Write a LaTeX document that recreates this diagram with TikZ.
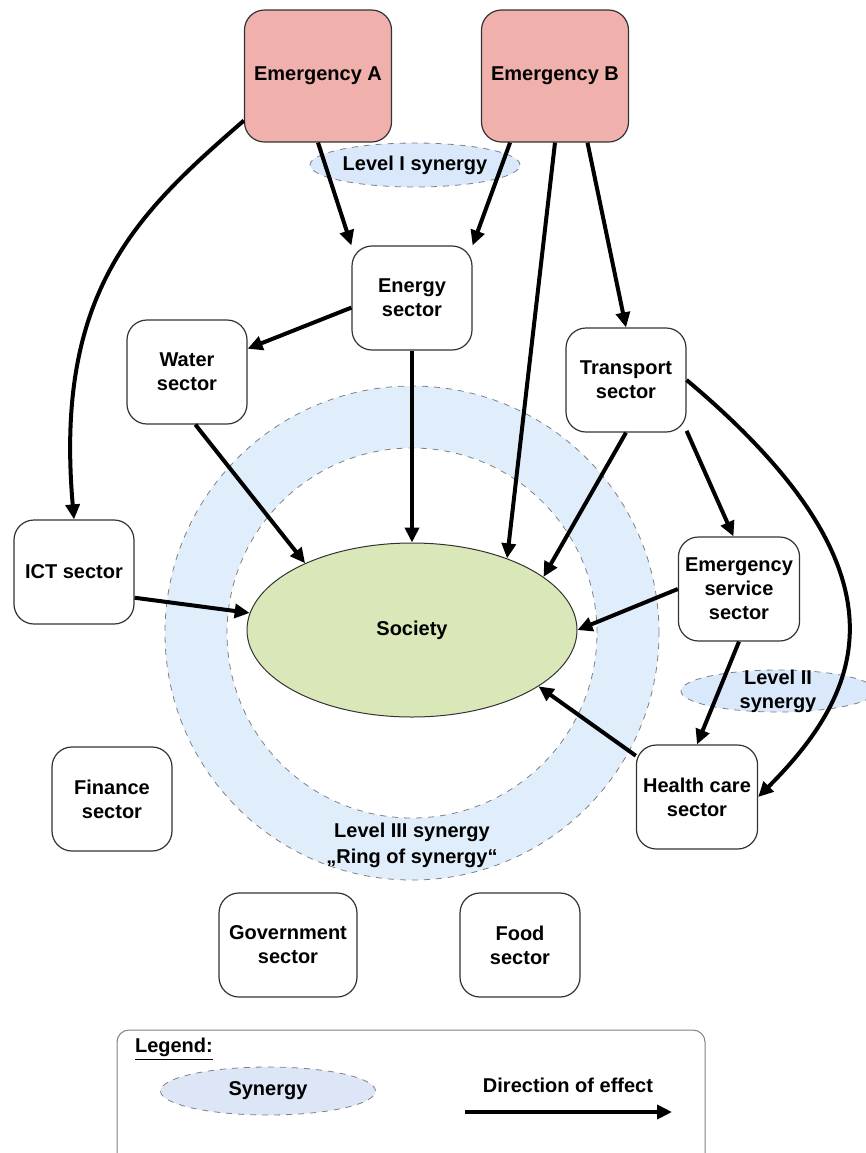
\documentclass[tikz,border=0pt]{standalone}
\usepackage{fontspec}
\setmainfont{Liberation Sans}
\usetikzlibrary{shapes,arrows.meta,positioning}
\definecolor{emred}{RGB}{240,176,172}
\definecolor{ringblue}{RGB}{224,238,252}
\definecolor{synblue}{RGB}{218,232,252}
\definecolor{legblue}{RGB}{220,230,246}
\definecolor{socgreen}{RGB}{218,232,185}
\tikzset{%
emnode/.style={rectangle, rounded corners=10pt, draw=black!80, line width=0.6pt, fill=emred, minimum width=73.5pt, minimum height=66pt, font=\bfseries},
secnode/.style={rectangle, rounded corners=10pt, draw=black!80, line width=0.6pt, fill=white, minimum width=60pt, minimum height=52pt, align=center, font=\bfseries},
synnode/.style={ellipse, draw=gray, dashed, thin, fill=synblue, inner sep=0pt, align=center, font=\bfseries},
pt/.style={draw=black, line width=2pt, -{Triangle[length=7.5pt,width=7pt]}},
ringline/.style={draw=gray, dashed, thin}
}

\begin{document}
\begin{tikzpicture}[x=0.5pt, y=0.5pt]
		\useasboundingbox[fill=white] (0,0) rectangle (866,-1153);
		% ring of synergy
		\path[ringline, fill=ringblue] (412,-633) circle [radius=247];
		\path[ringline, fill=white] (412,-633) circle [radius=185];
	
		\node[emnode] (ema) at (318,-76) {Emergency A};
		\node[emnode] (emb) at (555,-76) {Emergency B};
		\node[synnode, minimum width=105pt, minimum height=22pt] (lvone) at (415,-165) {Level I synergy};
		\node[secnode] (energy) at (412,-298) {Energy\\sector};
		\node[secnode] (water) at (187,-372) {Water\\sector};
		\node[secnode] (transport) at (626,-380) {Transport\\sector};
		\node[secnode] (ict) at (74,-572) {ICT sector};
		\node[secnode] (ess) at (739,-589) {Emergency\\service\\sector};
		\node[synnode, minimum width=97pt, minimum height=21pt] (lvtwo) at (778,-691) {};
		\node[align=center, font=\bfseries] (lvtwotext) at (lvtwo.center) {Level II\\synergy};
		\node[secnode] (health) at (697,-797) {Health care\\sector};
		\node[secnode] (finance) at (112,-799) {Finance\\sector};
		\node[secnode, minimum width=69pt] (gov) at (288,-945) {Government\\sector};
		\node[secnode] (food) at (520,-945) {Food\\sector};
		\node[ellipse, draw=black!80, line width=0.5pt, fill=socgreen, minimum width=165pt, minimum height=87pt, font=\bfseries] (society) at (412,-630) {Society};
		\node[align=center, font=\bfseries] (lvthree) at (412,-845) {Level III synergy\\[1pt]„Ring of synergy“};
	
		\path (ema.south) edge [pt] (energy.north west);
		\path (emb.-124) edge [pt] (energy.north east);
		\path (emb.south) edge [pt] (society.37);
		\path (emb.-64) edge [pt] (transport.north);
		\path (ema.211) edge [pt, out=221, in=95, out distance=70pt, in distance=115pt] (ict.north);
		
		\path (energy.189) edge [pt] (water.21);
		\path (energy.south) edge [pt] (society.north);
		\path (water.-81) edge [pt] (society.148);
		\path (ict.-23) edge [pt] (society.174);
		
		\path (transport.south) edge [pt] (society.22);
		\path (transport.-40) edge [pt] (ess.96);
		\path (transport.east) edge [pt, out=-40, in=45, out distance=150pt, in distance=75pt] (health.east);
		
		\path (ess.west) edge [pt] (society.east);
		\path (ess.south) edge [pt] (health.north);
		\path (health.146) edge [pt] (society.-24);
	
		% legend
		\node[draw=gray, line width=0.5pt, rounded corners=6pt, minimum width=294pt, minimum height=70pt] (legend) at (411,-1100) {};
		\node[anchor=west, font=\bfseries] (legtitle) at (128,-1049) {\underline{Legend:}};
		\node[synnode, fill=legblue, minimum width=107.5pt, minimum height=24pt] (legsyn) at (268,-1091) {Synergy};
		\node[font=\bfseries] (legdir) at (568,-1085) {Direction of effect};
		\coordinate (dirstart) at (465,-1112);
		\coordinate (dirend) at (672,-1112);
		\path (dirstart) edge [pt] (dirend);
	\end{tikzpicture}
\end{document}
